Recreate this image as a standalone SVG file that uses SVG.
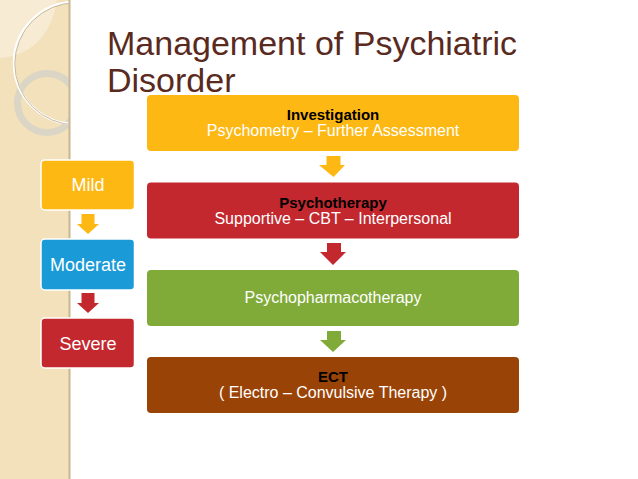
<svg xmlns="http://www.w3.org/2000/svg" width="638" height="479" viewBox="0 0 638 479">
<style>
.t{font-family:"Liberation Sans",Arial,sans-serif;text-anchor:middle}
.b{font-weight:bold;font-size:15px;fill:#000}
.w{font-size:16px;fill:#fff}
.l{font-size:18px;fill:#fff}
.side{stroke:#fff;stroke-width:1.5}
</style>
<rect width="638" height="479" fill="#fff"/>
<g id="strip">
<rect x="0" y="0" width="69" height="479" fill="#f2e1bb"/>
<path d="M0,0 L57,0 Q50,45 13,56 L0,58 Z" fill="#f7ecd3"/>
<clipPath id="sc"><rect x="0" y="0" width="69" height="479"/></clipPath>
<g clip-path="url(#sc)">
<circle cx="47" cy="103" r="29.5" fill="none" stroke="#dbd5c6" stroke-width="7"/>
<circle cx="75" cy="63" r="61" fill="none" stroke="#fff" stroke-width="2.5"/>
<circle cx="75" cy="63" r="61" fill="none" stroke="#b9a88a" stroke-width="0.8" transform="translate(0.8,0.8)"/>
</g>
<rect x="68.5" y="0" width="2" height="479" fill="#c8b695"/>
</g>
<g id="title">
<text x="107" y="55" font-family="Liberation Sans,Arial,sans-serif" font-size="34" fill="#5a2a1e">Management of Psychiatric</text>
<text x="107" y="92" font-family="Liberation Sans,Arial,sans-serif" font-size="34" fill="#5a2a1e">Disorder</text>
</g>
<g id="connectors">
<path d="M327.5,156 H341.5 V165 H346 L334.5,177 L320,165 H327.5 Z" fill="#fdb813" transform="translate(-1,0)"/>
<path d="M327,243 H341 V252 H346 L333,265 L320,252 H327 Z" fill="#c3282f"/>
<path d="M327,331 H341 V340 H346 L333,352 L320,340 H327 Z" fill="#80ab38"/>
<path d="M81.5,214 H94.5 V224 H99 L88,234 L77,224 H81.5 Z" fill="#fdb813"/>
<path d="M81.5,293 H94.5 V303 H99 L88,313 L77,303 H81.5 Z" fill="#c3282f"/>
</g>
<g id="investigation">
<rect x="147" y="95" width="372" height="56" rx="4" fill="#fdb813"/>
<text class="t b" x="333" y="120">Investigation</text>
<text class="t w" x="333" y="136">Psychometry – Further Assessment</text>
</g>
<g id="psychotherapy">
<rect x="147" y="182.5" width="372" height="56" rx="4" fill="#c3282f"/>
<text class="t b" x="333" y="207.5">Psychotherapy</text>
<text class="t w" x="333" y="224">Supportive – CBT – Interpersonal</text>
</g>
<g id="psychopharmacotherapy">
<rect x="147" y="270" width="372" height="56" rx="4" fill="#80ab38"/>
<text class="t w" x="333" y="303">Psychopharmacotherapy</text>
</g>
<g id="ect">
<rect x="147" y="357" width="372" height="56" rx="4" fill="#9a4306"/>
<text class="t b" x="333" y="382">ECT</text>
<text class="t w" x="333" y="398">( Electro – Convulsive Therapy )</text>
</g>
<g id="mild">
<rect class="side" x="41" y="160" width="93.5" height="50" rx="4" fill="#fdb813"/>
<text class="t l" x="88" y="191">Mild</text>
</g>
<g id="moderate">
<rect class="side" x="41" y="239" width="93.5" height="51" rx="4" fill="#1a9ad7"/>
<text class="t l" x="88" y="270.5">Moderate</text>
</g>
<g id="severe">
<rect class="side" x="41" y="318" width="93.5" height="50" rx="4" fill="#c3282f"/>
<text class="t l" x="88" y="349.5">Severe</text>
</g>
</svg>
